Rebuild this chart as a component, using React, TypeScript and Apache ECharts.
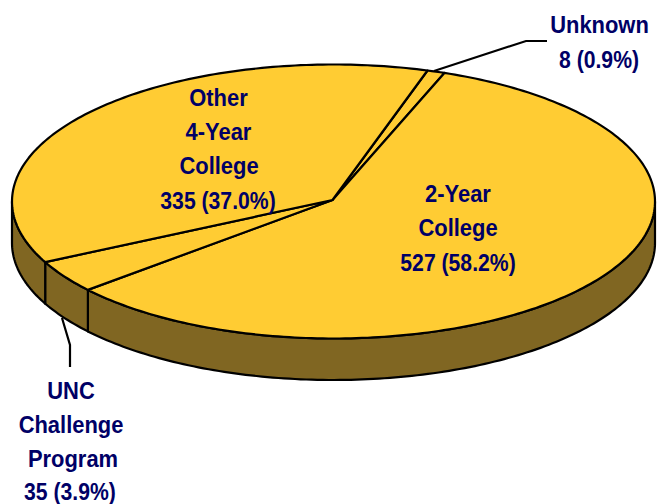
import React, { useEffect, useRef } from "react";
import * as echarts from "echarts";

const categories = ["Unknown", "2-Year College", "UNC Challenge Program", "Other 4-Year College"];
const values = [8, 527, 35, 335];
const labelLines = [
  ["Unknown", "8 (0.9%)"],
  ["2-Year", "College", "527 (58.2%)"],
  ["UNC", "Challenge", "Program", "35 (3.9%)"],
  ["Other", "4-Year", "College", "335 (37.0%)"],
];
const labelCenters = [
  [[599.5, 25], [599, 59]],
  [[458, 194], [458, 228], [458, 262]],
  [[71, 391], [71, 425], [73, 459], [70, 491]],
  [[218.5, 98], [218.5, 132], [219, 166], [218, 200]],
];

const total = values.reduce((a, b) => a + b, 0);
const CX = 333.5, CY = 201.5, RX = 321.5, RY = 137, DEPTH = 41.5, START = 17;
const TOP = "#FFCC33", WALL = "#806622", NAVY = "#000066";

const sliceRange = (i: number) => {
  let acc = 0;
  for (let k = 0; k < i; k++) acc += values[k];
  return [START + (acc / total) * 360, START + ((acc + values[i]) / total) * 360];
};
const pt = (deg: number, dy = 0): number[] => {
  const r = (deg * Math.PI) / 180;
  return [CX + RX * Math.sin(r), CY - RY * Math.cos(r) + dy];
};
const arc = (a: number, b: number, dy = 0) => {
  const n = Math.max(2, Math.ceil(Math.abs(b - a) / 1));
  const out: number[][] = [];
  for (let i = 0; i <= n; i++) out.push(pt(a + ((b - a) * i) / n, dy));
  return out;
};
const stroke = { stroke: "#000", lineWidth: 2.2, lineJoin: "round" as const };

const labelElements = labelLines.flatMap((lines, i) =>
  lines.map((text, j) => ({
    type: "text",
    z: 6,
    x: labelCenters[i][j][0],
    y: labelCenters[i][j][1],
    scaleX: j === lines.length - 1 && text.includes("(") ? 0.865 : 0.895,
    style: {
      text,
      fill: NAVY,
      font: 'bold 24.5px "Liberation Sans", sans-serif',
      lineHeight: 24,
      align: "center",
      verticalAlign: "middle",
    },
  }))
);

export default function App() {
  const ref = useRef<HTMLDivElement>(null);
  useEffect(() => {
    const chart = echarts.init(ref.current!, null, { renderer: "svg" });
    const seriesData = categories.map((name, i) => ({ name, value: values[i] }));
    chart.setOption({
      animation: false,
      backgroundColor: "#fff",
      series: [
        {
          type: "custom",
          coordinateSystem: "none",
          silent: true,
          data: seriesData,
          z: 1,
          renderItem: (p: any) => {
            const [a, b] = sliceRange(p.dataIndex);
            const s = Math.max(a, 90), e = Math.min(b, 270);
            if (e <= s) return { type: "group", children: [] };
            const points = [...arc(s, e), ...arc(e, s, DEPTH)];
            return { type: "polygon", shape: { points }, style: { fill: WALL, ...stroke } };
          },
        },
        {
          type: "custom",
          coordinateSystem: "none",
          silent: true,
          data: seriesData,
          z: 2,
          renderItem: (p: any) => {
            const [a, b] = sliceRange(p.dataIndex);
            const points = [[CX - 1, CY - 1.5], ...arc(a, b)];
            return { type: "polygon", shape: { points }, style: { fill: TOP, ...stroke } };
          },
        },
      ],
      graphic: [
        { type: "polyline", z: 5, shape: { points: [[434, 71], [526, 41], [547, 41]] }, style: { fill: "none", stroke: "#000", lineWidth: 2.2 } },
        { type: "polyline", z: 5, shape: { points: [[62, 318], [70, 345], [70, 367]] }, style: { fill: "none", stroke: "#000", lineWidth: 2.2 } },
        ...labelElements,
      ],
    });
    return () => chart.dispose();
  }, []);
  return <div ref={ref} style={{ position: "fixed", left: 0, top: 0, width: 658, height: 504 }} />;
}
